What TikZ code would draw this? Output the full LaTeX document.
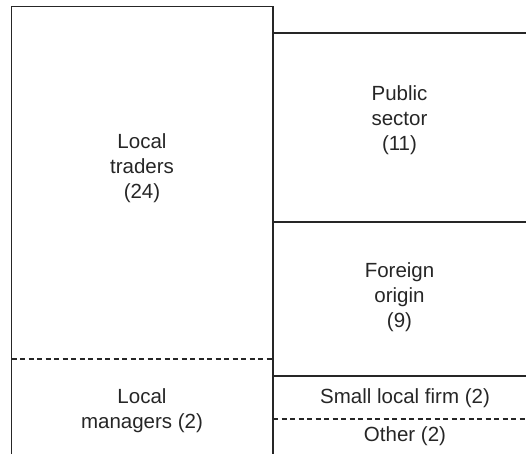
\documentclass[tikz,border=0pt]{standalone}
\usepackage{fontspec}
\setmainfont{Liberation Sans}
\begin{document}
\begin{tikzpicture}[x=1pt,y=-1pt,
  solidline/.style={line width=1.5pt,draw=black!85},
  dashline/.style={line width=1.2pt,draw=black!85,dash pattern=on 5pt off 3.5pt},
  lbl/.style={align=center,font=\fontsize{20.5}{25}\selectfont,text=black!85,inner sep=0pt}]
\useasboundingbox (0,0) rectangle (526,454);
% left block
\draw[solidline] (11.5,454) -- (11.5,6.5) -- (273,6.5) -- (273,454);
\draw[dashline] (11.5,359) -- (273,359);
% right side
\draw[solidline] (273,33) -- (526,33);
\draw[solidline] (273,222) -- (526,222);
\draw[solidline] (273,376) -- (526,376);
\draw[dashline] (273,419) -- (526,419);
% labels
\node[lbl] (traders) at (142,168) {Local\\traders\\(24)};
\node[lbl] (managers) at (142,411) {Local\\managers (2)};
\node[lbl] (public) at (399.5,120) {Public\\sector\\(11)};
\node[lbl] (foreign) at (399.5,297) {Foreign\\origin\\(9)};
\node[lbl] (small) at (405,398) {Small local firm (2)};
\node[lbl] (other) at (405,436) {Other (2)};
\end{tikzpicture}
\end{document}
